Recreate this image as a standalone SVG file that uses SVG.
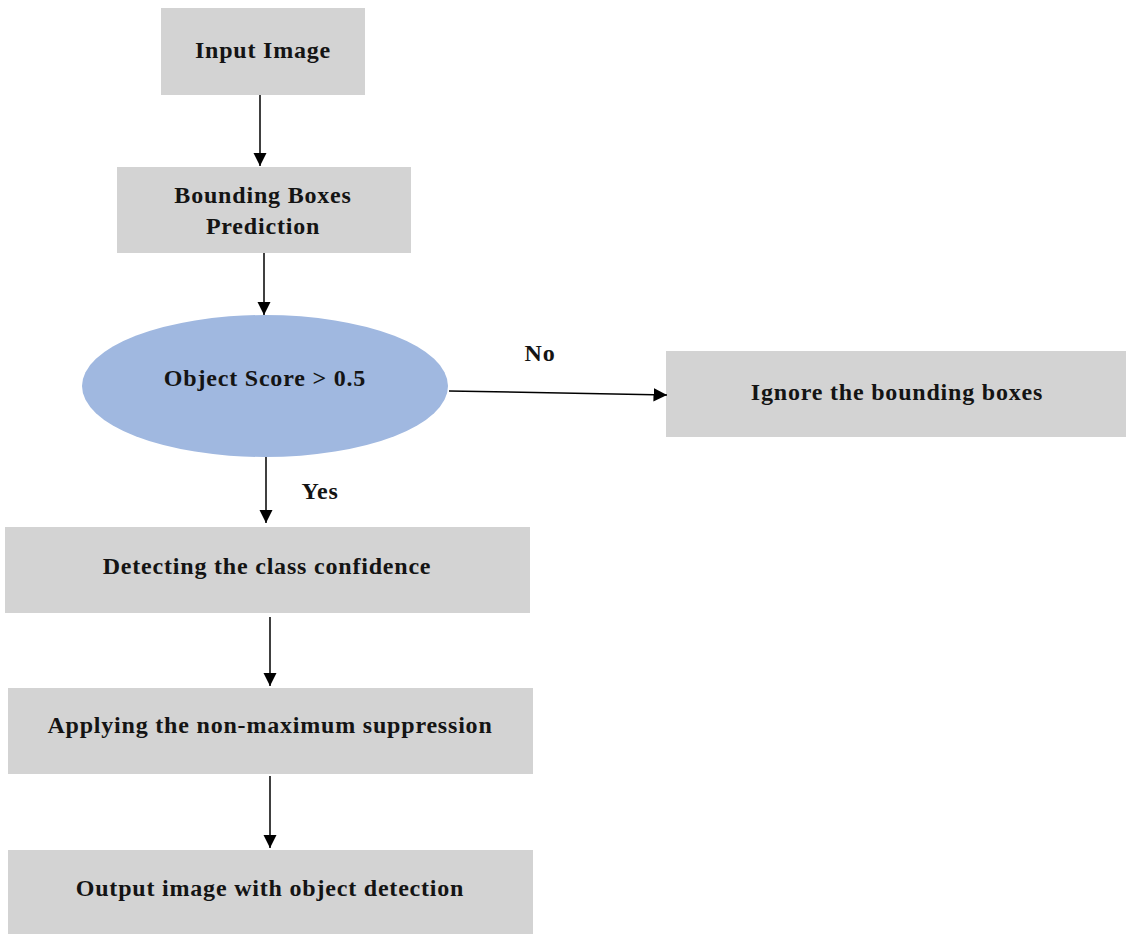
<svg xmlns="http://www.w3.org/2000/svg" width="1126" height="934" viewBox="0 0 1126 934">
  <style>
    .box { fill: #d3d3d3; }
    .decision { fill: #a0b8e0; }
    .label { font-family: "Liberation Serif", "Times New Roman", serif; font-weight: bold; font-size: 24px; letter-spacing: 0.8px; fill: #141414; text-anchor: middle; dominant-baseline: central; }
    .edge { stroke: #000; stroke-width: 1.5; fill: none; marker-end: url(#arrow); }
  </style>
  <defs>
    <marker id="arrow" viewBox="0 0 10 10" refX="10" refY="5" markerWidth="9" markerHeight="9" markerUnits="strokeWidth" orient="auto">
      <path d="M0,0 L10,5 L0,10 z" fill="#000"/>
    </marker>
  </defs>
  <rect width="1126" height="934" fill="#fff"/>

  <g id="input-image">
    <rect class="box" x="161" y="8" width="204" height="87"/>
    <text class="label" x="263" y="50">Input Image</text>
  </g>

  <g id="bbox-prediction">
    <rect class="box" x="117" y="167" width="294" height="86"/>
    <text class="label" x="263" y="195">Bounding Boxes</text>
    <text class="label" x="263" y="226">Prediction</text>
  </g>

  <g id="object-score">
    <ellipse class="decision" cx="265" cy="386" rx="183" ry="71"/>
    <text class="label" x="265" y="378">Object Score &gt; 0.5</text>
  </g>

  <g id="ignore-boxes">
    <rect class="box" x="666" y="351" width="460" height="86"/>
    <text class="label" x="897" y="392">Ignore the bounding boxes</text>
  </g>

  <g id="class-confidence">
    <rect class="box" x="5" y="527" width="525" height="86"/>
    <text class="label" x="267" y="566">Detecting the class confidence</text>
  </g>

  <g id="nms">
    <rect class="box" x="8" y="688" width="525" height="86"/>
    <text class="label" x="270" y="725">Applying the non-maximum suppression</text>
  </g>

  <g id="output-image">
    <rect class="box" x="8" y="850" width="525" height="84"/>
    <text class="label" x="270" y="888">Output image with object detection</text>
  </g>

  <g id="connectors">
    <line class="edge" x1="260" y1="95" x2="260" y2="166"/>
    <line class="edge" x1="264" y1="253" x2="264" y2="315"/>
    <line class="edge" x1="449" y1="391" x2="667" y2="395"/>
    <line class="edge" x1="266" y1="457" x2="266" y2="523"/>
    <line class="edge" x1="270" y1="617" x2="270" y2="686"/>
    <line class="edge" x1="270" y1="776" x2="270" y2="848"/>
    <text class="label" x="540" y="353">No</text>
    <text class="label" x="320" y="491">Yes</text>
  </g>
</svg>
